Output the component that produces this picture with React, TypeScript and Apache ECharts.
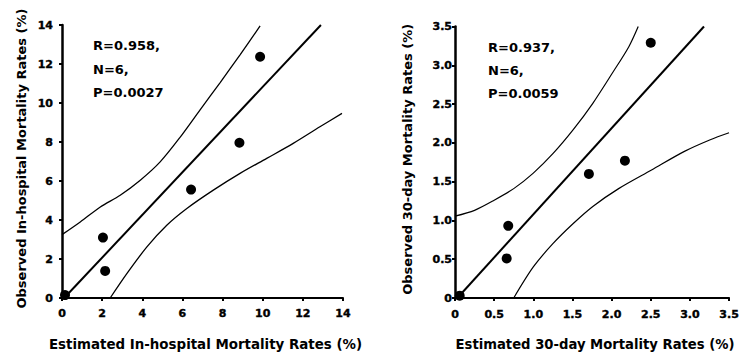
import React, { useEffect, useRef } from "react";
import * as echarts from "echarts";

// In-hospital mortality: estimated (x) vs observed (y), %
const inHospEst = [0.15, 2.04, 2.15, 6.43, 8.84, 9.87];
const inHospObs = [0.15, 3.1, 1.39, 5.56, 7.96, 12.37];
const inHospFitX = [0.2, 12.9];
const inHospFitY = [0.1, 14];
const inHospUpperX = [0, 0.91, 1.91, 2.9, 3.9, 4.89, 5.89, 6.88, 7.88, 8.87, 9.87];
const inHospUpperY = [3.25, 3.9, 4.67, 5.27, 6.04, 6.98, 8.25, 9.65, 11.05, 12.47, 13.95];
const inHospLowerX = [2.4, 3.23, 4.23, 5.22, 6.22, 7.54, 8.87, 10.2, 11.52, 12.85, 13.95];
const inHospLowerY = [0, 1.25, 2.62, 3.73, 4.59, 5.53, 6.39, 7.16, 7.93, 8.78, 9.47];
const inHospTicks = ["0", "2", "4", "6", "8", "10", "12", "14"];
const inHospStats = ["R=0.958,", "N=6,", "P=0.0027"];

// 30-day mortality: estimated (x) vs observed (y), %
const dayEst = [0.06, 0.68, 0.66, 1.71, 2.17, 2.5];
const dayObs = [0.03, 0.93, 0.51, 1.6, 1.77, 3.29];
const dayFitX = [0.03, 3.18];
const dayFitY = [0, 3.5];
const dayUpperX = [0, 0.25, 0.5, 0.75, 1.0, 1.25, 1.51, 1.76, 2.01, 2.22, 2.34];
const dayUpperY = [1.055, 1.13, 1.26, 1.41, 1.61, 1.86, 2.17, 2.51, 2.9, 3.24, 3.5];
const dayLowerX = [0.75, 1.0, 1.25, 1.51, 1.76, 2.09, 2.51, 2.93, 3.26, 3.5];
const dayLowerY = [0, 0.4, 0.7, 0.96, 1.18, 1.41, 1.65, 1.89, 2.04, 2.13];
const dayTicks = ["0", "0.5", "1.0", "1.5", "2.0", "2.5", "3.0", "3.5"];
const dayStats = ["R=0.937,", "N=6,", "P=0.0059"];

const zip = (xs: number[], ys: number[]) => xs.map((x, i) => [x, ys[i]]);

const INK = "#000";
const FONT = "DejaVu Sans";

function valueAxis(
  gridIndex: number,
  max: number,
  interval: number,
  ticks: string[],
  name: string,
  nameGap: number,
  nameSize: number,
  labelMargin: number,
  lineWidth: number
) {
  return {
    type: "value",
    gridIndex,
    min: 0,
    max,
    interval,
    name,
    nameLocation: "middle",
    nameGap,
    nameTextStyle: {
      fontFamily: FONT,
      fontWeight: "bold",
      fontSize: nameSize,
      color: INK,
      padding: [0, 0, 0, 6],
    },
    axisLine: { show: true, lineStyle: { color: INK, width: lineWidth } },
    axisTick: { show: true, length: 3, lineStyle: { color: INK, width: 2 } },
    axisLabel: {
      show: true,
      margin: labelMargin,
      color: INK,
      fontFamily: FONT,
      fontWeight: 700,
      fontSize: 11,
      formatter: (v: number) => `{t|${ticks[Math.round(v / interval)] ?? ""}}`,
      rich: {
        t: {
          fontFamily: FONT,
          fontWeight: "bold",
          fontSize: 11,
          color: INK,
          textBorderColor: INK,
          textBorderWidth: 0.4,
        },
      },
    },
    splitLine: { show: false },
  };
}

function bandSeries(idx: number, data: number[][], width: number, smooth: boolean) {
  return {
    type: "line",
    xAxisIndex: idx,
    yAxisIndex: idx,
    data,
    smooth: smooth ? 0.3 : false,
    symbol: "none",
    silent: true,
    lineStyle: { color: INK, width },
    z: 2,
  };
}

function dotSeries(idx: number, data: number[][]) {
  return {
    type: "scatter",
    xAxisIndex: idx,
    yAxisIndex: idx,
    data,
    symbol: "circle",
    symbolSize: 10,
    itemStyle: { color: INK, opacity: 1 },
    z: 3,
  };
}

function statTexts(x: number, ys: number[], lines: string[]) {
  return lines.map((t, i) => ({
    type: "text",
    x,
    y: ys[i],
    silent: true,
    style: {
      text: t,
      fill: INK,
      font: `bold 13px "${FONT}"`,
      align: "left",
      verticalAlign: "middle",
      textAlign: "left",
      textVerticalAlign: "middle",
    },
  }));
}

export default function App() {
  const ref = useRef<HTMLDivElement>(null);

  useEffect(() => {
    if (!ref.current) return;
    const chart = echarts.init(ref.current, null, { renderer: "svg" });

    chart.setOption({
      animation: false,
      backgroundColor: "#fff",
      textStyle: { fontFamily: FONT, fontWeight: "bold", color: INK },
      grid: [
        { left: 62, top: 25, width: 281, height: 273 },
        { left: 455, top: 26.5, width: 279, height: 271.5 },
      ],
      xAxis: [
        valueAxis(0, 14, 2, inHospTicks, "Estimated In-hospital Mortality Rates (%)", 40, 13.4, 10, 2),
        valueAxis(1, 3.5, 0.5, dayTicks, "Estimated 30-day Mortality Rates (%)", 40, 13.2, 11, 2),
      ],
      yAxis: [
        valueAxis(0, 14, 2, inHospTicks, "Observed In-hospital Mortality Rates (%)", 34, 13, 9, 2.5),
        valueAxis(1, 3.5, 0.5, dayTicks, "Observed 30-day Mortality Rates (%)", 41, 13, 3, 2.5),
      ],
      series: [
        bandSeries(0, zip(inHospUpperX, inHospUpperY), 1.3, true),
        bandSeries(0, zip(inHospLowerX, inHospLowerY), 1.3, true),
        bandSeries(0, zip(inHospFitX, inHospFitY), 2, false),
        dotSeries(0, zip(inHospEst, inHospObs)),
        bandSeries(1, zip(dayUpperX, dayUpperY), 1.2, true),
        bandSeries(1, zip(dayLowerX, dayLowerY), 1.2, true),
        bandSeries(1, zip(dayFitX, dayFitY), 2, false),
        dotSeries(1, zip(dayEst, dayObs)),
      ],
      graphic: [
        ...statTexts(93, [45, 69, 92], inHospStats),
        ...statTexts(488, [47, 70, 93], dayStats),
      ],
    });

    return () => chart.dispose();
  }, []);

  return (
    <div
      ref={ref}
      style={{ position: "absolute", left: 0, top: 0, width: 742, height: 363, background: "#fff" }}
    />
  );
}
